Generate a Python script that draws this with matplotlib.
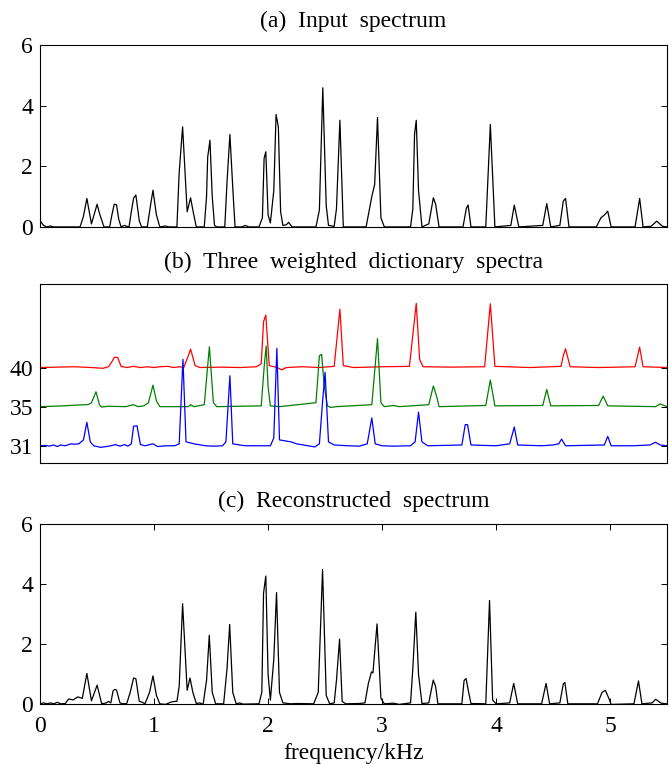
import numpy as np
import matplotlib
import matplotlib.pyplot as plt

matplotlib.use("Agg")

plt.rcParams["font.family"] = ["Liberation Serif", "DejaVu Serif"]
plt.rcParams["mathtext.fontset"] = "stix"

# input spectrum, polyline vertices (kHz, magnitude)
input_freq = [0.00, 0.03, 0.06, 0.09, 0.12, 0.35, 0.38, 0.41, 0.45, 0.50, 0.52, 0.56,
              0.61, 0.63, 0.65, 0.67, 0.69, 0.71, 0.74, 0.76, 0.78, 0.80, 0.82, 0.84,
              0.87, 0.89, 0.94, 0.97, 0.99, 1.02, 1.05, 1.10, 1.13, 1.20, 1.22, 1.25,
              1.29, 1.32, 1.34, 1.37, 1.44, 1.46, 1.47, 1.49, 1.51, 1.53, 1.55, 1.62,
              1.64, 1.665, 1.69, 1.71, 1.77, 1.80, 1.83, 1.92, 1.95, 1.965, 1.98, 2.00,
              2.02, 2.05, 2.07, 2.09, 2.11, 2.13, 2.16, 2.18, 2.21, 2.42, 2.45, 2.48,
              2.51, 2.53, 2.58, 2.60, 2.63, 2.66, 2.86, 2.91, 2.935, 2.96, 2.99, 3.02,
              3.25, 3.27, 3.285, 3.30, 3.32, 3.35, 3.41, 3.45, 3.47, 3.50, 3.71, 3.74,
              3.755, 3.78, 3.91, 3.95, 3.99, 4.13, 4.16, 4.20, 4.41, 4.445, 4.48, 4.56,
              4.59, 4.61, 4.64, 4.88, 4.92, 4.95, 4.98, 5.01, 5.22, 5.26, 5.29, 5.36,
              5.41, 5.46, 5.50]
input_amp = [0.20, 0.05, 0.00, 0.03, 0.00, 0.00, 0.35, 0.94, 0.10, 0.75, 0.45, 0.00,
             0.00, 0.40, 0.75, 0.73, 0.25, 0.00, 0.05, 0.02, 0.00, 0.50, 0.95, 1.05,
             0.20, 0.00, 0.00, 0.75, 1.21, 0.40, 0.00, 0.03, 0.00, 0.00, 1.80, 3.30,
             0.50, 0.96, 0.55, 0.00, 0.00, 1.00, 2.30, 2.86, 1.00, 0.05, 0.00, 0.00,
             1.50, 3.05, 1.30, 0.00, 0.00, 0.05, 0.00, 0.00, 0.30, 2.26, 2.48, 0.40,
             0.13, 1.20, 3.71, 3.30, 0.50, 0.05, 0.07, 0.15, 0.00, 0.00, 0.55, 4.59,
             0.70, 0.05, 0.02, 0.60, 3.52, 0.00, 0.00, 1.00, 1.40, 3.61, 0.30, 0.00,
             0.00, 0.60, 3.05, 3.52, 1.20, 0.00, 0.10, 0.96, 0.75, 0.00, 0.00, 0.62,
             0.72, 0.00, 0.00, 3.38, 0.00, 0.05, 0.72, 0.00, 0.05, 0.77, 0.00, 0.05,
             0.85, 0.94, 0.00, 0.00, 0.30, 0.39, 0.52, 0.00, 0.00, 0.94, 0.00, 0.02,
             0.19, 0.02, 0.00]

# weighted dictionary spectra (amplitude above each trace's own baseline)
red_freq = [0.00, 0.15, 0.30, 0.45, 0.55, 0.60, 0.63, 0.65, 0.68, 0.71, 0.76, 0.82,
            0.88, 0.94, 1.00, 1.05, 1.12, 1.17, 1.22, 1.26, 1.30, 1.32, 1.36, 1.40,
            1.60, 1.75, 1.90, 1.94, 1.96, 1.98, 2.01, 2.08, 2.12, 2.16, 2.30, 2.45,
            2.58, 2.63, 2.66, 2.75, 3.00, 3.24, 3.30, 3.33, 3.36, 3.60, 3.90, 3.95,
            3.99, 4.30, 4.57, 4.59, 4.61, 4.65, 4.90, 5.22, 5.26, 5.29, 5.50]
red_amp = [0.00, 0.01, 0.02, 0.00, -0.02, 0.02, 0.15, 0.26, 0.26, 0.03, 0.00, 0.03,
           0.00, 0.02, 0.00, 0.02, 0.03, 0.00, 0.02, 0.00, 0.30, 0.47, 0.05, 0.00,
           0.01, 0.00, 0.02, 0.10, 1.17, 1.34, 0.05, 0.00, -0.06, 0.00, 0.02, 0.00,
           0.03, 1.49, 0.05, 0.00, 0.02, 0.03, 1.64, 0.20, 0.02, 0.01, 0.02, 1.63,
           0.03, 0.00, 0.03, 0.30, 0.48, 0.02, 0.00, 0.02, 0.52, 0.02, 0.00]

green_freq = [0.00, 0.20, 0.38, 0.42, 0.45, 0.49, 0.52, 0.54, 0.60, 0.75, 0.82, 0.86,
              0.91, 0.95, 0.99, 1.02, 1.05, 1.30, 1.32, 1.35, 1.44, 1.485, 1.52, 1.55,
              1.94, 1.965, 1.983, 2.00, 2.02, 2.10, 2.42, 2.45, 2.47, 2.49, 2.52, 2.55,
              2.60, 2.91, 2.96, 2.99, 3.02, 3.10, 3.15, 3.41, 3.45, 3.48, 3.50, 3.91,
              3.95, 3.99, 4.41, 4.445, 4.48, 4.90, 4.94, 4.98, 5.40, 5.44, 5.50]
green_amp = [0.00, 0.02, 0.05, 0.05, 0.10, 0.38, 0.05, -0.01, 0.01, 0.00, 0.05, 0.00,
             0.02, 0.10, 0.55, 0.15, 0.00, 0.00, 0.05, 0.00, 0.05, 1.53, 0.10, 0.00,
             0.02, 1.00, 1.55, 0.50, 0.02, 0.00, 0.10, 1.30, 1.34, 0.60, 0.02, -0.02,
             0.00, 0.05, 1.74, 0.10, 0.00, 0.03, 0.00, 0.05, 0.53, 0.25, 0.00, 0.03,
             0.68, 0.02, 0.03, 0.44, 0.02, 0.03, 0.27, 0.02, 0.00, 0.07, 0.00]

blue_freq = [0.00, 0.05, 0.08, 0.12, 0.15, 0.18, 0.22, 0.27, 0.30, 0.34, 0.38, 0.41,
             0.44, 0.47, 0.53, 0.58, 0.62, 0.66, 0.70, 0.74, 0.77, 0.80, 0.82, 0.85,
             0.88, 0.92, 0.99, 1.03, 1.10, 1.18, 1.22, 1.253, 1.28, 1.35, 1.45, 1.52,
             1.60, 1.63, 1.665, 1.69, 1.75, 1.80, 2.02, 2.05, 2.077, 2.10, 2.20, 2.25,
             2.35, 2.41, 2.45, 2.48, 2.50, 2.53, 2.58, 2.70, 2.80, 2.87, 2.91, 2.94,
             3.00, 3.10, 3.25, 3.29, 3.32, 3.35, 3.40, 3.70, 3.73, 3.75, 3.78, 4.00,
             4.12, 4.16, 4.19, 4.40, 4.50, 4.55, 4.575, 4.61, 4.95, 4.98, 5.01, 5.20,
             5.35, 5.40, 5.44, 5.50]
blue_amp = [0.00, 0.01, -0.01, 0.02, -0.02, 0.02, 0.00, 0.05, 0.04, 0.05, 0.15, 0.60,
            0.10, 0.00, -0.04, -0.02, 0.00, 0.03, -0.01, 0.03, -0.01, 0.05, 0.50, 0.51,
            0.03, 0.00, 0.05, -0.02, 0.00, 0.00, 0.05, 2.21, 0.10, 0.05, 0.00, -0.01,
            0.00, 0.10, 1.79, 0.05, 0.02, 0.00, 0.00, 0.20, 2.49, 0.15, 0.10, 0.05,
            0.00, -0.03, 0.05, 1.20, 1.88, 0.10, 0.02, 0.00, -0.01, 0.05, 0.71, 0.05,
            0.00, -0.01, 0.00, 0.10, 0.86, 0.10, 0.00, 0.02, 0.54, 0.54, 0.02, 0.00,
            0.05, 0.48, 0.02, 0.00, 0.02, 0.05, 0.17, 0.00, 0.02, 0.24, 0.00, 0.00,
            0.02, 0.09, 0.02, 0.00]

dict_offsets = [2, 1, 0]
dict_labels = ["40", "35", "31"]
dict_colors = ["#ff0000", "#008000", "#0000ff"]

# reconstructed spectrum
recon_freq = [0.00, 0.03, 0.06, 0.09, 0.12, 0.15, 0.18, 0.22, 0.25, 0.29, 0.33, 0.37,
              0.41, 0.45, 0.50, 0.54, 0.58, 0.60, 0.62, 0.64, 0.655, 0.67, 0.70, 0.73,
              0.76, 0.79, 0.82, 0.84, 0.87, 0.89, 0.92, 0.96, 0.99, 1.02, 1.05, 1.10,
              1.15, 1.18, 1.20, 1.22, 1.25, 1.28, 1.29, 1.315, 1.34, 1.37, 1.40, 1.43,
              1.46, 1.484, 1.51, 1.54, 1.61, 1.64, 1.663, 1.69, 1.72, 1.75, 1.78, 1.92,
              1.945, 1.96, 1.98, 2.00, 2.02, 2.05, 2.074, 2.10, 2.13, 2.20, 2.25, 2.40,
              2.44, 2.478, 2.51, 2.54, 2.58, 2.60, 2.627, 2.65, 2.68, 2.80, 2.85, 2.88,
              2.907, 2.92, 2.956, 2.99, 3.02, 3.10, 3.15, 3.25, 3.27, 3.296, 3.32, 3.35,
              3.41, 3.449, 3.47, 3.49, 3.70, 3.72, 3.737, 3.76, 3.78, 3.91, 3.943, 3.97,
              4.00, 4.12, 4.155, 4.19, 4.40, 4.439, 4.47, 4.56, 4.59, 4.604, 4.63, 4.89,
              4.93, 4.959, 4.99, 5.01, 5.21, 5.25, 5.28, 5.37, 5.40, 5.45, 5.50]
recon_amp = [0.02, 0.05, 0.02, 0.05, 0.02, 0.07, 0.02, 0.03, 0.18, 0.15, 0.25, 0.20,
             1.03, 0.12, 0.64, 0.02, 0.05, 0.10, 0.05, 0.45, 0.50, 0.48, 0.05, 0.02,
             0.03, 0.40, 0.88, 0.85, 0.10, 0.08, 0.02, 0.40, 0.95, 0.30, 0.02, 0.00,
             0.08, 0.10, 0.10, 0.60, 3.35, 1.20, 0.47, 0.88, 0.40, 0.03, 0.05, 0.00,
             0.80, 2.30, 0.40, 0.02, 0.02, 1.20, 2.66, 0.40, 0.02, 0.05, 0.01, 0.02,
             0.40, 3.70, 4.27, 1.00, 0.14, 1.50, 3.72, 0.40, 0.05, 0.02, 0.03, 0.02,
             0.40, 4.49, 0.30, 0.02, 0.05, 0.80, 2.17, 0.10, 0.02, 0.03, 0.05, 0.70,
             1.08, 1.05, 2.68, 0.20, 0.02, 0.04, 0.00, 0.05, 1.20, 3.07, 1.00, 0.03,
             0.05, 0.81, 0.60, 0.02, 0.02, 0.80, 0.86, 0.40, 0.03, 0.02, 3.46, 0.15,
             0.02, 0.05, 0.70, 0.02, 0.02, 0.70, 0.02, 0.05, 0.68, 0.73, 0.02, 0.02,
             0.40, 0.47, 0.20, 0.00, 0.02, 0.78, 0.02, 0.05, 0.17, 0.04, 0.02]

FS = 17
fig = plt.figure(figsize=(6.69, 7.64), dpi=100)
left, width = 0.060, 0.937
ax_a = fig.add_axes([left, 0.703, width, 0.238])
ax_b = fig.add_axes([left, 0.394, width, 0.234])
ax_c = fig.add_axes([left, 0.078, width, 0.236])


def style_axes(ax):
    for sp in ax.spines.values():
        sp.set_linewidth(0.8)
    ax.set_xlim(0, 5.5)
    ax.tick_params(direction="in", length=4.5, width=0.7, labelsize=FS,
                   left=True, right=True, top=False, bottom=False, pad=5)


# (a)
ax_a.plot(input_freq, input_amp, color="black", lw=0.9)
style_axes(ax_a)
ax_a.set_ylim(0, 6)
ax_a.set_yticks([0, 2, 4, 6])
ax_a.set_xticks([])
ax_a.set_title("(a)  Input  spectrum", fontsize=FS, pad=13)

# (b)
dict_freqs = [red_freq, green_freq, blue_freq]
dict_amps = [red_amp, green_amp, blue_amp]
for f, a, off, c in zip(dict_freqs, dict_amps, dict_offsets, dict_colors):
    ax_b.plot(f, np.array(a) + off, color=c, lw=0.9)
style_axes(ax_b)
ax_b.set_ylim(-0.44, 4.13)
ax_b.set_yticks(dict_offsets)
ax_b.set_yticklabels(dict_labels)
ax_b.set_xticks([])
ax_b.set_title("(b)  Three  weighted  dictionary  spectra", fontsize=FS, pad=12)

# (c)
ax_c.plot(recon_freq, recon_amp, color="black", lw=0.9)
style_axes(ax_c)
ax_c.set_ylim(0, 6)
ax_c.set_yticks([0, 2, 4, 6])
ax_c.set_xticks([0, 1, 2, 3, 4, 5])
ax_c.tick_params(axis="x", top=True, bottom=True, pad=8)
ax_c.set_title("(c)  Reconstructed  spectrum", fontsize=FS, pad=12)
ax_c.set_xlabel("frequency/kHz", fontsize=FS, labelpad=5)

fig.savefig("out.png", dpi=100)
plt.close(fig)
